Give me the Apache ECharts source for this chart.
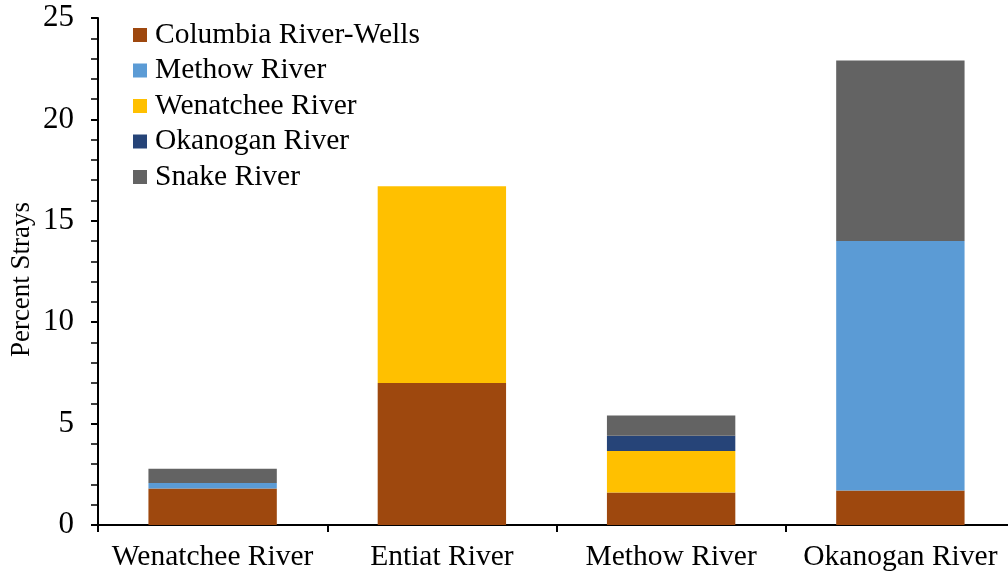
<!DOCTYPE html>
<html>
<head>
<meta charset="utf-8">
<script src="https://cdn.jsdelivr.net/npm/echarts@6/dist/echarts.min.js"></script>
<style>html,body{margin:0;padding:0;background:#fff}#c{width:1008px;height:580px}</style>
</head>
<body>
<div id="c"></div>
<script>
const categories = ['Wenatchee River', 'Entiat River', 'Methow River', 'Okanogan River'];
const columbiaWells = [1.8, 7.0, 1.6, 1.7];
const methow = [0.27, 0, 0, 12.3];
const wenatchee = [0, 9.7, 2.05, 0];
const okanogan = [0, 0, 0.75, 0];
const snake = [0.7, 0, 1.0, 8.9];
const seriesNames = ['Columbia River-Wells', 'Methow River', 'Wenatchee River', 'Okanogan River', 'Snake River'];
const seriesData = [columbiaWells, methow, wenatchee, okanogan, snake];
const colors = ['#9E480E', '#5B9BD5', '#FFC000', '#264478', '#636363'];

const font = '"Liberation Serif", "Times New Roman", serif';
const chart = echarts.init(document.getElementById('c'), null, {renderer: 'canvas'});
chart.setOption({
  animation: false,
  textStyle: {fontFamily: font},
  grid: {left: 98, width: 917, top: 18, bottom: 55, containLabel: false, outerBoundsMode: 'none'},
  legend: {
    orient: 'vertical', left: 133, top: 20, padding: 0,
    itemWidth: 14, itemHeight: 14, itemGap: 5.5,
    icon: 'rect',
    textStyle: {fontFamily: font, fontSize: 29.5, color: '#000', lineHeight: 30, padding: [0,0,0,3]},
    data: seriesNames
  },
  xAxis: {
    type: 'category', data: categories,
    axisLine: {lineStyle: {color: '#000', width: 2}},
    axisTick: {show: true, interval: 0, length: 7, lineStyle: {color: '#000', width: 2}, alignWithLabel: false},
    axisLabel: {interval: 0, hideOverlap: false, fontFamily: font, fontSize: 29.5, color: '#000', margin: 17}
  },
  yAxis: {
    type: 'value', min: 0, max: 25, interval: 5,
    name: 'Percent Strays', nameLocation: 'middle', nameGap: 63, nameRotate: 90, nameMoveOverlap: false,
    nameTextStyle: {fontFamily: font, fontSize: 27, color: '#000', padding: [0, 16, 0, 0]},
    axisLine: {show: true, lineStyle: {color: '#000', width: 2}},
    axisTick: {show: true, inside: false, length: 7, lineStyle: {color: '#000', width: 2}},
    minorTick: {show: true, splitNumber: 5, length: 7, lineStyle: {color: '#000', width: 1.5}},
    splitLine: {show: false},
    axisLabel: {fontFamily: font, fontSize: 31, color: '#000', margin: 24}
  },
  series: seriesNames.map((n, i) => ({
    name: n, type: 'bar', stack: 'total', data: seriesData[i],
    barWidth: '56%',
    itemStyle: {color: colors[i]}
  }))
});
</script>
</body>
</html>
